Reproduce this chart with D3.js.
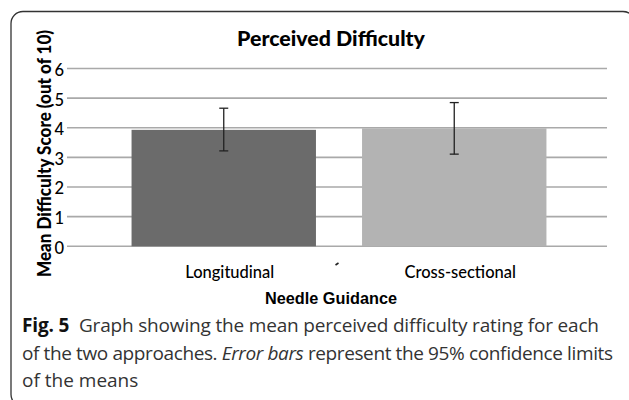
<!DOCTYPE html>
<html><head><meta charset="utf-8">
<script src="https://cdn.jsdelivr.net/npm/d3@7/dist/d3.min.js"></script>
<style>html,body{margin:0;padding:0;background:#fff;overflow:hidden}</style>
</head><body>
<svg id="chart" width="629" height="400"></svg>
<script>
const categories = ["Longitudinal", "Cross-sectional"];
const means = [3.93, 3.98];
const lowerCI = [3.22, 3.11];
const upperCI = [4.66, 4.85];
const yTicks = [0, 1, 2, 3, 4, 5, 6];
const barColors = ["#6b6b6b", "#b3b3b3"];
const title = "Perceived Difficulty";
const yTitle = "Mean Difficulty Score (out of 10)";
const xTitle = "Needle Guidance";

const svg = d3.select("#chart");

function fit(sel, w) {
  const fs = parseFloat(sel.style("font-size"));
  const len = sel.node().getComputedTextLength();
  sel.style("font-size", (fs * w / len).toFixed(2) + "px");
  return fs * w / len;
}

// frame
svg.append("rect").attr("x", 11).attr("y", 11.5).attr("width", 624).attr("height", 395)
  .attr("rx", 12).attr("fill", "none").attr("stroke", "#333").attr("stroke-width", 1.3);

const y = d3.scaleLinear().domain([0, 6]).range([246.3, 68.5]);
const x = d3.scaleBand().domain(categories).range([108.5, 569.5]).paddingInner(0.2).paddingOuter(0.1);

// gridlines
svg.append("g").selectAll("line").data(yTicks).join("line")
  .attr("x1", 67).attr("x2", 607)
  .attr("y1", d => y(d)).attr("y2", d => y(d))
  .attr("stroke", "#a9a9a9").attr("stroke-width", 1.6);

// y axis tick labels
const yAxis = d3.axisLeft(y).tickValues(yTicks).tickSize(0).tickPadding(2).tickFormat(d3.format("d"));
const yg = svg.append("g").attr("transform", "translate(66,0)").call(yAxis);
yg.select(".domain").remove();
yg.selectAll("text").attr("font-family", "Lato").attr("font-size", 16.5).attr("font-weight", 500)
  .attr("fill", "#000").attr("dy", "0.42em");

// bars
svg.append("g").selectAll("rect").data(categories).join("rect")
  .attr("x", d => x(d)).attr("width", x.bandwidth())
  .attr("y", (d, i) => y(means[i])).attr("height", (d, i) => y(0) - y(means[i]))
  .attr("fill", (d, i) => barColors[i]);

// error bars
const eb = svg.append("g").attr("stroke", "#222").attr("stroke-width", 1.3);
categories.forEach((c, i) => {
  const cx = x(c) + x.bandwidth() / 2;
  eb.append("line").attr("x1", cx).attr("x2", cx).attr("y1", y(upperCI[i])).attr("y2", y(lowerCI[i]));
  eb.append("line").attr("x1", cx - 4.5).attr("x2", cx + 4.5).attr("y1", y(upperCI[i])).attr("y2", y(upperCI[i]));
  eb.append("line").attr("x1", cx - 4.5).attr("x2", cx + 4.5).attr("y1", y(lowerCI[i])).attr("y2", y(lowerCI[i]));
});

// category labels
svg.append("g").selectAll("text").data(categories).join("text")
  .attr("x", d => x(d) + x.bandwidth() / 2 + 6).attr("y", 277.5)
  .attr("text-anchor", "middle").attr("font-family", "Lato").attr("font-size", 16.5).attr("font-weight", 500).attr("fill", "#000")
  .text(d => d);

// small stray tick mark
svg.append("line").attr("x1", 335.5).attr("x2", 338.5).attr("y1", 265).attr("y2", 263)
  .attr("stroke", "#222").attr("stroke-width", 1.6);

// title
const t = svg.append("text").attr("x", 331).attr("y", 45.5).attr("text-anchor", "middle")
  .attr("font-family", "Lato").attr("font-weight", "900").style("font-size", "20px").attr("fill", "#000").text(title);
fit(t, 188);

// y title
svg.append("text").attr("transform", "translate(51,153.5) rotate(-90)").attr("text-anchor", "middle")
  .attr("font-family", "Lato").attr("font-weight", "900").style("font-size", "18px").attr("fill", "#000")
  .attr("textLength", 247).attr("lengthAdjust", "spacingAndGlyphs").text(yTitle);

// x title
const xt = svg.append("text").attr("x", 331).attr("y", 304).attr("text-anchor", "middle")
  .attr("font-family", "Liberation Sans").attr("font-weight", "bold").style("font-size", "15px").attr("fill", "#000").text(xTitle);
fit(xt, 132);

// caption
const cap = svg.append("g").attr("font-family", "Open Sans").attr("fill", "#333").style("font-size", "19px");
const l1 = cap.append("text").attr("x", 22).attr("y", 332).attr("textLength", 577).attr("lengthAdjust", "spacing");
l1.append("tspan").attr("font-weight", "bold").attr("fill", "#111").text("Fig. 5");
l1.append("tspan").attr("dx", 5).text(" Graph showing the mean perceived difficulty rating for each");
const l2 = cap.append("text").attr("x", 22).attr("y", 359.5).attr("textLength", 591).attr("lengthAdjust", "spacing");
l2.append("tspan").text("of the two approaches. ");
l2.append("tspan").attr("font-style", "italic").text("Error bars");
l2.append("tspan").text(" represent the 95% confidence limits");
cap.append("text").attr("x", 22).attr("y", 387).text("of the means");
</script>
</body></html>
